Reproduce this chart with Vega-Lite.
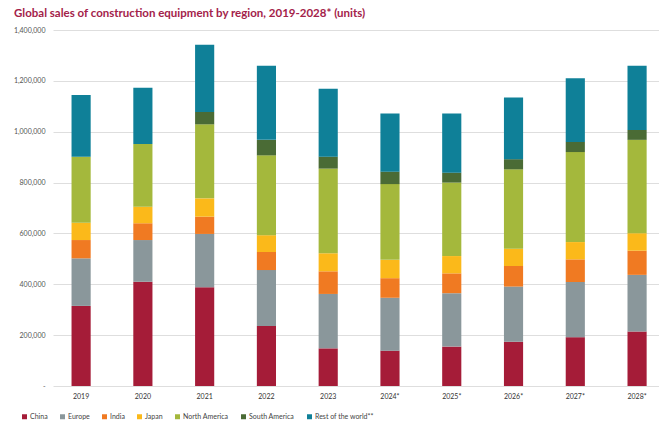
{
  "$schema": "https://vega.github.io/schema/vega-lite/v6.json",
  "autosize": "none",
  "width": 606,
  "height": 356,
  "padding": {"left": 53, "top": 30, "right": 0, "bottom": 39},
  "background": "white",
  "title": {
    "text": "Global sales of construction equipment by region, 2019-2028* (units)",
    "anchor": "start",
    "frame": "group",
    "font": "Lato",
    "fontSize": 11.5,
    "fontWeight": "bold",
    "color": "#a3224a",
    "dx": -39,
    "baseline": "alphabetic",
    "offset": -2
  },
  "config": {
    "view": {"stroke": null},
    "font": "Lato"
  },
  "data": {
    "values": [
      {"year": "2019", "region": "China", "units": 315000},
      {"year": "2019", "region": "Europe", "units": 187000},
      {"year": "2019", "region": "India", "units": 72000},
      {"year": "2019", "region": "Japan", "units": 68000},
      {"year": "2019", "region": "North America", "units": 260000},
      {"year": "2019", "region": "South America", "units": 0},
      {"year": "2019", "region": "Rest of the world**", "units": 242000},
      {"year": "2020", "region": "China", "units": 410000},
      {"year": "2020", "region": "Europe", "units": 164000},
      {"year": "2020", "region": "India", "units": 66000},
      {"year": "2020", "region": "Japan", "units": 65000},
      {"year": "2020", "region": "North America", "units": 247000},
      {"year": "2020", "region": "South America", "units": 0},
      {"year": "2020", "region": "Rest of the world**", "units": 221000},
      {"year": "2021", "region": "China", "units": 388000},
      {"year": "2021", "region": "Europe", "units": 210000},
      {"year": "2021", "region": "India", "units": 68000},
      {"year": "2021", "region": "Japan", "units": 72000},
      {"year": "2021", "region": "North America", "units": 291000},
      {"year": "2021", "region": "South America", "units": 49000},
      {"year": "2021", "region": "Rest of the world**", "units": 264000},
      {"year": "2022", "region": "China", "units": 236000},
      {"year": "2022", "region": "Europe", "units": 220000},
      {"year": "2022", "region": "India", "units": 71000},
      {"year": "2022", "region": "Japan", "units": 66000},
      {"year": "2022", "region": "North America", "units": 314000},
      {"year": "2022", "region": "South America", "units": 61000},
      {"year": "2022", "region": "Rest of the world**", "units": 291000},
      {"year": "2023", "region": "China", "units": 148000},
      {"year": "2023", "region": "Europe", "units": 214000},
      {"year": "2023", "region": "India", "units": 89000},
      {"year": "2023", "region": "Japan", "units": 71000},
      {"year": "2023", "region": "North America", "units": 333000},
      {"year": "2023", "region": "South America", "units": 47000},
      {"year": "2023", "region": "Rest of the world**", "units": 267000},
      {"year": "2024*", "region": "China", "units": 139000},
      {"year": "2024*", "region": "Europe", "units": 208000},
      {"year": "2024*", "region": "India", "units": 77000},
      {"year": "2024*", "region": "Japan", "units": 72000},
      {"year": "2024*", "region": "North America", "units": 298000},
      {"year": "2024*", "region": "South America", "units": 49000},
      {"year": "2024*", "region": "Rest of the world**", "units": 229000},
      {"year": "2025*", "region": "China", "units": 155000},
      {"year": "2025*", "region": "Europe", "units": 210000},
      {"year": "2025*", "region": "India", "units": 78000},
      {"year": "2025*", "region": "Japan", "units": 68000},
      {"year": "2025*", "region": "North America", "units": 289000},
      {"year": "2025*", "region": "South America", "units": 39000},
      {"year": "2025*", "region": "Rest of the world**", "units": 233000},
      {"year": "2026*", "region": "China", "units": 174000},
      {"year": "2026*", "region": "Europe", "units": 217000},
      {"year": "2026*", "region": "India", "units": 81000},
      {"year": "2026*", "region": "Japan", "units": 68000},
      {"year": "2026*", "region": "North America", "units": 312000},
      {"year": "2026*", "region": "South America", "units": 40000},
      {"year": "2026*", "region": "Rest of the world**", "units": 243000},
      {"year": "2027*", "region": "China", "units": 192000},
      {"year": "2027*", "region": "Europe", "units": 217000},
      {"year": "2027*", "region": "India", "units": 89000},
      {"year": "2027*", "region": "Japan", "units": 68000},
      {"year": "2027*", "region": "North America", "units": 354000},
      {"year": "2027*", "region": "South America", "units": 40000},
      {"year": "2027*", "region": "Rest of the world**", "units": 250000},
      {"year": "2028*", "region": "China", "units": 214000},
      {"year": "2028*", "region": "Europe", "units": 223000},
      {"year": "2028*", "region": "India", "units": 95000},
      {"year": "2028*", "region": "Japan", "units": 69000},
      {"year": "2028*", "region": "North America", "units": 367000},
      {"year": "2028*", "region": "South America", "units": 39000},
      {"year": "2028*", "region": "Rest of the world**", "units": 252000}
    ]
  },
  "transform": [
    {"calculate": "indexof(['China','Europe','India','Japan','North America','South America','Rest of the world**'], datum.region)", "as": "ord"}
  ],
  "mark": {"type": "bar"},
  "encoding": {
    "x": {
      "field": "year",
      "type": "ordinal",
      "sort": null,
      "scale": {"paddingInner": 0.69, "paddingOuter": 0.25, "align": 0.6},
      "axis": {
        "title": null,
        "domain": false,
        "ticks": false,
        "labelAngle": 0,
        "labelFontSize": 7,
        "labelColor": "#333333",
        "labelPadding": 6
      }
    },
    "y": {
      "field": "units",
      "type": "quantitative",
      "stack": "zero",
      "scale": {"domain": [0, 1400000], "nice": false},
      "axis": {
        "title": null,
        "values": [0, 200000, 400000, 600000, 800000, 1000000, 1200000, 1400000],
        "labelExpr": "datum.value == 0 ? '-' : format(datum.value, ',')",
        "domain": false,
        "ticks": false,
        "labelPadding": 8,
        "labelFontSize": 7,
        "labelColor": "#555555",
        "gridColor": "#dedede",
        "gridWidth": 1
      }
    },
    "color": {
      "field": "region",
      "type": "nominal",
      "scale": {
        "domain": ["China", "Europe", "India", "Japan", "North America", "South America", "Rest of the world**"],
        "range": ["#a51c38", "#8a979b", "#f07a22", "#fbb91a", "#a4b83c", "#4a6b35", "#0f8098"]
      },
      "legend": {
        "title": null,
        "orient": "none",
        "direction": "horizontal",
        "legendX": -32,
        "legendY": 383,
        "symbolType": "square",
        "symbolSize": 25,
        "symbolStrokeWidth": 0,
        "labelFontSize": 7,
        "labelColor": "#444444",
        "labelOffset": 2,
        "columnPadding": 11
      }
    },
    "order": {"field": "ord", "type": "quantitative", "sort": "ascending"}
  }
}
